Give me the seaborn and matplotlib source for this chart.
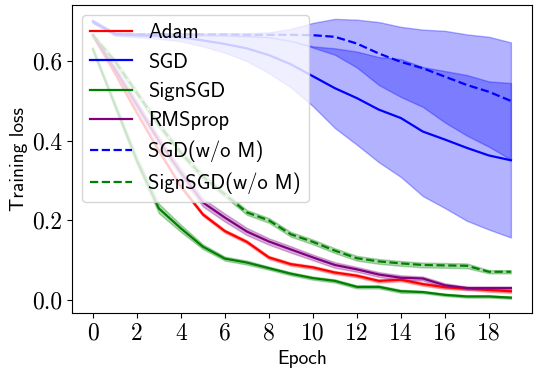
import numpy as np
import matplotlib
matplotlib.use('Agg')
import matplotlib.pyplot as plt
import seaborn as sns

# Épocas
epochs = np.arange(20)

# Médias da perda de treino por otimizador
adam = [0.665, 0.57, 0.47, 0.375, 0.285, 0.215, 0.173, 0.146, 0.107, 0.090, 0.082,
        0.069, 0.061, 0.048, 0.051, 0.040, 0.032, 0.029, 0.025, 0.022]
sgd = [0.700, 0.668, 0.665, 0.663, 0.660, 0.652, 0.643, 0.632, 0.615, 0.592, 0.562,
       0.532, 0.507, 0.478, 0.457, 0.423, 0.403, 0.382, 0.363, 0.351]
signsgd = [0.630, 0.49, 0.35, 0.230, 0.180, 0.134, 0.104, 0.094, 0.080, 0.066, 0.055,
           0.048, 0.033, 0.033, 0.022, 0.020, 0.013, 0.009, 0.009, 0.006]
rmsprop = [0.665, 0.58, 0.49, 0.40, 0.320, 0.245, 0.207, 0.172, 0.147, 0.127, 0.107,
           0.088, 0.077, 0.064, 0.056, 0.054, 0.037, 0.030, 0.030, 0.030]
sgd_wom = [0.698, 0.668, 0.667, 0.667, 0.667, 0.667, 0.667, 0.666, 0.666, 0.666, 0.665,
           0.661, 0.644, 0.619, 0.598, 0.582, 0.561, 0.540, 0.523, 0.500]
signsgd_wom = [0.665, 0.60, 0.52, 0.44, 0.370, 0.310, 0.265, 0.220, 0.200, 0.165, 0.146,
               0.124, 0.105, 0.097, 0.092, 0.088, 0.087, 0.086, 0.071, 0.071]

# Desvios padrão (faixas sombreadas)
adam_std = [0.004] * 20
sgd_std = [0.004, 0.004, 0.005, 0.007, 0.010, 0.015, 0.022, 0.032, 0.045, 0.058, 0.075,
           0.100, 0.117, 0.132, 0.148, 0.162, 0.172, 0.183, 0.186, 0.194]
signsgd_std = [0.006, 0.008, 0.010, 0.012, 0.009, 0.006, 0.005, 0.005, 0.004, 0.004, 0.004,
               0.004, 0.004, 0.004, 0.004, 0.003, 0.003, 0.003, 0.003, 0.003]
rmsprop_std = [0.005, 0.008, 0.010, 0.010, 0.010, 0.010, 0.010, 0.009, 0.008, 0.008, 0.007,
               0.007, 0.006, 0.006, 0.006, 0.005, 0.005, 0.004, 0.004, 0.004]
sgd_wom_std = [0.003, 0.003, 0.003, 0.003, 0.003, 0.003, 0.003, 0.004, 0.006, 0.015, 0.031,
               0.045, 0.060, 0.079, 0.088, 0.097, 0.115, 0.127, 0.138, 0.147]
signsgd_wom_std = [0.004, 0.006, 0.007, 0.007, 0.007, 0.007, 0.006, 0.006, 0.006, 0.006, 0.006,
                   0.006, 0.006, 0.006, 0.006, 0.006, 0.006, 0.006, 0.004, 0.004]

series = [
    ('Adam', adam, adam_std, 'red', '-'),
    ('SGD', sgd, sgd_std, 'blue', '-'),
    ('SignSGD', signsgd, signsgd_std, 'green', '-'),
    ('RMSprop', rmsprop, rmsprop_std, 'purple', '-'),
    ('SGD(w/o M)', sgd_wom, sgd_wom_std, 'blue', '--'),
    ('SignSGD(w/o M)', signsgd_wom, signsgd_wom_std, 'green', '--'),
]

plt.rcParams['font.family'] = ['cmss10', 'DejaVu Sans']
plt.rcParams['axes.unicode_minus'] = False

fig, ax = plt.subplots(figsize=(5.41, 3.76), dpi=100)
fig.subplots_adjust(left=0.133, right=0.983, top=0.987, bottom=0.168)

for nome, media, desvio, cor, estilo in series:
    media = np.array(media)
    desvio = np.array(desvio)
    sns.lineplot(x=epochs, y=media, color=cor, linestyle=estilo, label=nome, ax=ax, linewidth=1.6)
    ax.fill_between(epochs, media - desvio, media + desvio, color=cor, alpha=0.3)

ax.set_xticks(range(0, 20, 2))
ax.set_yticks([0.0, 0.2, 0.4, 0.6])
ax.set_yticklabels(['0.0', '0.2', '0.4', '0.6'])
for lbl in ax.get_xticklabels() + ax.get_yticklabels():
    lbl.set_fontfamily('cmr10')
    lbl.set_fontsize(17)

ax.set_xlabel('Epoch', fontsize=14)
ax.set_ylabel('Training loss', fontsize=14, labelpad=3)
ax.legend(loc='upper left', fontsize=14.8)

fig.savefig('out.png', dpi=100)
